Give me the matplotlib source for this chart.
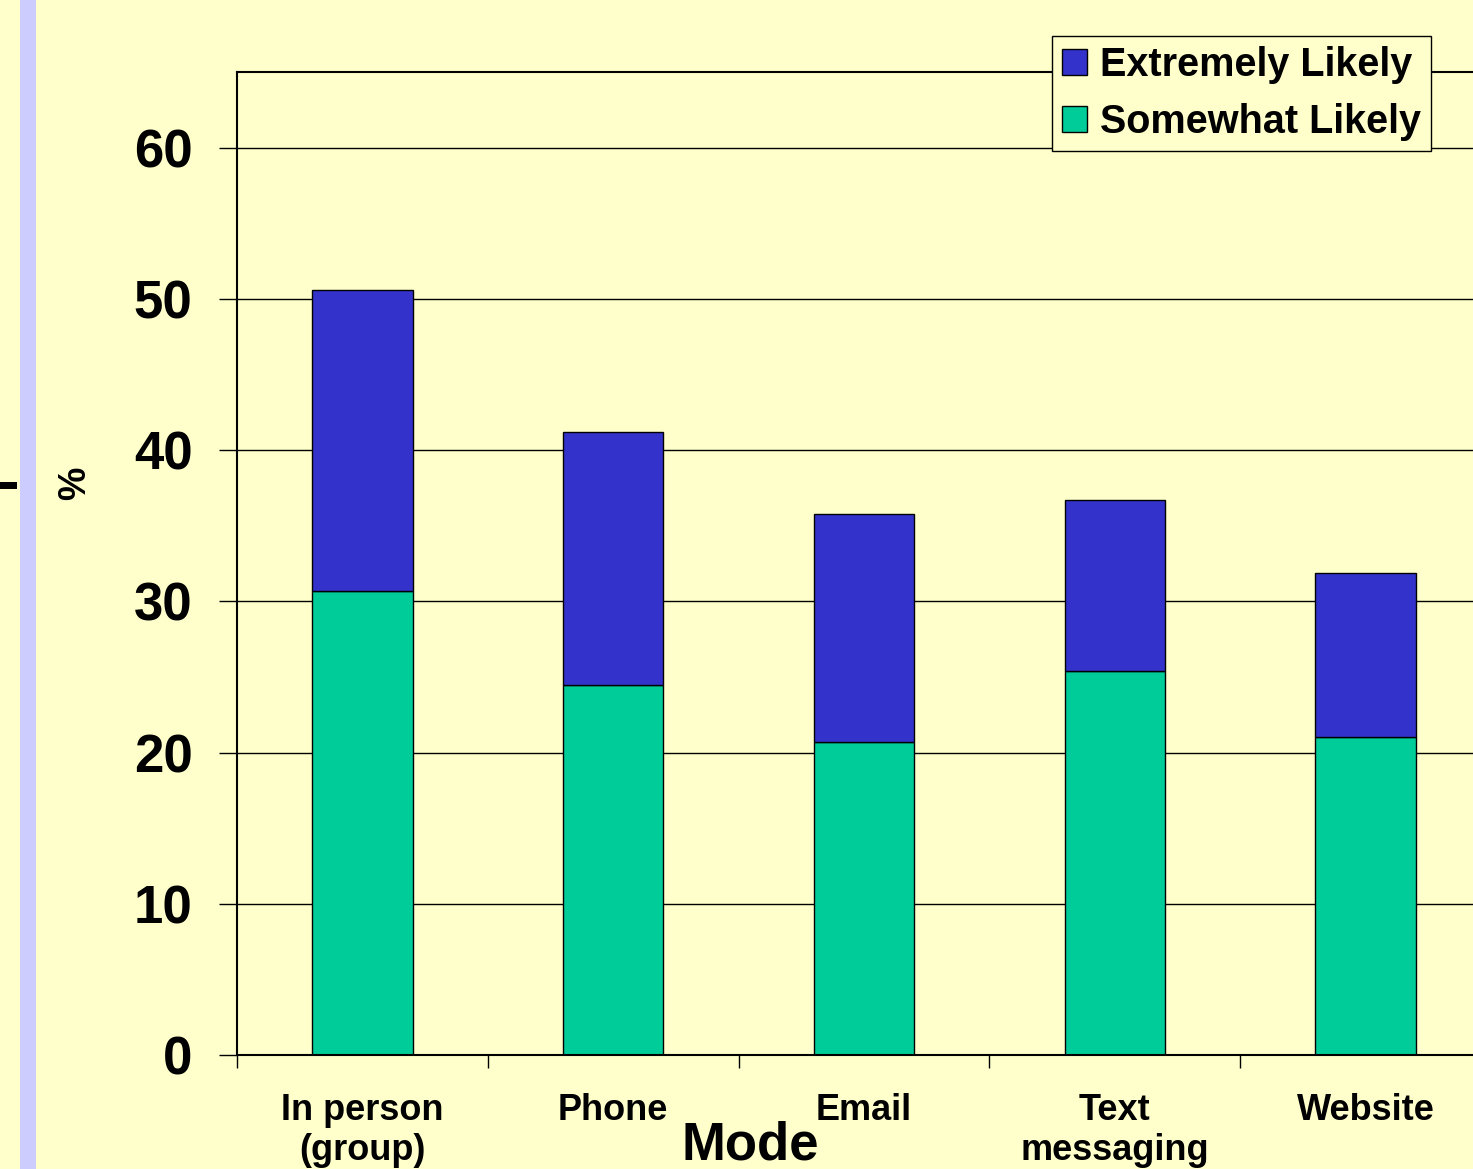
import matplotlib
matplotlib.use("Agg")
import matplotlib.pyplot as plt
from matplotlib.patches import Rectangle
import numpy as np

categories = ["In person\n(group)", "Phone", "Email", "Text\nmessaging", "Website"]
somewhat_likely = [30.7, 24.45, 20.7, 25.4, 21.0]
extremely_likely = [19.9, 16.75, 15.05, 11.3, 10.9]
yticks = [0, 10, 20, 30, 40, 50, 60]

BG = "#FFFFCC"
BLUE = "#3333CC"
GREEN = "#00CC99"
LAV = "#CCCCFF"

plt.rcParams['font.family'] = ['Liberation Sans', 'DejaVu Sans']
plt.rcParams['font.weight'] = 'bold'

W, H = 1473, 1169
fig = plt.figure(figsize=(W / 100, H / 100), dpi=100, facecolor=BG)

# decorative slide elements
fig.add_artist(Rectangle((20 / W, 0), 16 / W, 1, transform=fig.transFigure,
                         facecolor=LAV, edgecolor="none"))
fig.add_artist(Rectangle((0, 1 - 489 / H), 17 / W, 7 / H, transform=fig.transFigure,
                         facecolor="black", edgecolor="none"))

left, right, top, bottom = 237, 237 + 5 * 250.8, 72, 1055
ax = fig.add_axes([left / W, 1 - bottom / H, (right - left) / W, (bottom - top) / H])
ax.set_facecolor(BG)

x = np.arange(len(categories))
ax.bar(x, somewhat_likely, width=0.4, color=GREEN, edgecolor="black", linewidth=1,
       label="Somewhat Likely", zorder=2)
ax.bar(x, extremely_likely, width=0.4, bottom=somewhat_likely, color=BLUE,
       edgecolor="black", linewidth=1, label="Extremely Likely", zorder=2)

ax.set_xlim(-0.5, 4.5)
ax.set_ylim(0, 65)
ax.set_yticks(yticks)
ax.set_yticklabels([str(v) for v in yticks], fontsize=38, fontweight='bold')
ax.tick_params(axis='y', length=13, width=1, pad=19, direction='out')
ax.yaxis.grid(True, color="black", linewidth=1)
ax.set_axisbelow(True)

ax.set_xticks(np.arange(-0.5, 5.0, 1.0))
ax.set_xticklabels([])
ax.tick_params(axis='x', which='major', length=9, width=1, direction='out')
ax.set_xticks(x, minor=True)
ax.set_xticklabels(categories, minor=True, fontsize=26, fontweight='bold', linespacing=1.2)
ax.tick_params(axis='x', which='minor', length=0, pad=27)

for s in ['left', 'bottom', 'top']:
    ax.spines[s].set_linewidth(1.5)
    ax.spines[s].set_color("black")
ax.spines['right'].set_visible(False)

fig.text(750 / W, 1 - 1160 / H, "Mode", fontsize=38, fontweight='bold',
         ha='center', va='baseline')
fig.text(75 / W, 1 - 483 / H, "%", fontsize=27, fontweight='bold',
         rotation=90, ha='center', va='center')

handles, labels = ax.get_legend_handles_labels()
leg = fig.legend(handles[::-1], labels[::-1], loc='upper left',
                 bbox_to_anchor=(1052 / W, 1 - 36 / H),
                 prop={'weight': 'bold', 'size': 28.5},
                 frameon=True, fancybox=False, edgecolor="black", facecolor=BG,
                 framealpha=1, borderpad=0.25, labelspacing=0.48,
                 handlelength=0.63, handleheight=0.63, handletextpad=0.33,
                 borderaxespad=0)
leg.get_frame().set_linewidth(1)

fig.savefig("out.png", dpi=100, facecolor=BG)
